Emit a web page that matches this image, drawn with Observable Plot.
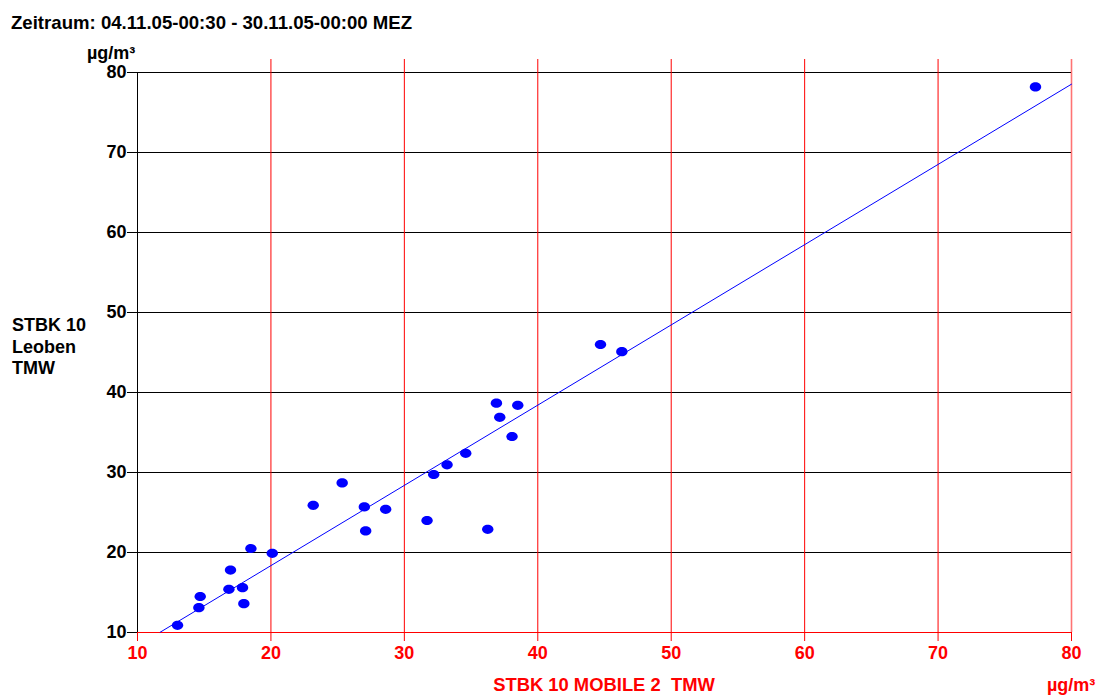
<!DOCTYPE html>
<html>
<head>
<meta charset="utf-8">
<script src="https://cdn.jsdelivr.net/npm/d3@7"></script>
<script src="https://cdn.jsdelivr.net/npm/@observablehq/plot@0.6"></script>
<style>
  html, body { margin: 0; padding: 0; background: #fff; }
  #wrap { position: relative; width: 1098px; height: 697px; font-family: "Liberation Sans", Arial, Helvetica, sans-serif; font-weight: bold; font-size: 18px; line-height: 18px; }
  #wrap svg { position: absolute; left: 0; top: 0; }
  .lbl { position: absolute; white-space: pre; }
</style>
</head>
<body>
<div id="wrap">
  <div class="lbl" id="title" style="left:11px; top:14px; color:#000; font-size:18.6px;"></div>
  <div class="lbl" id="yunit" style="left:87px; top:44px; color:#000;"></div>
  <div class="lbl" id="ylabel" style="left:12px; top:315px; color:#000; line-height:21.7px;"></div>
  <div class="lbl" id="xlabel" style="left:604px; top:676px; color:#ff0000; font-size:18.4px; transform:translateX(-50%);"></div>
  <div class="lbl" id="xunit" style="left:1047px; top:676px; color:#ff0000;"></div>
</div>
<script>
// ---- data ----
const titleText = "Zeitraum: 04.11.05-00:30 - 30.11.05-00:00 MEZ";
const unitText = "µg/m³";
const yLabelLines = ["STBK 10", "Leoben", "TMW"];
const xLabelText = "STBK 10 MOBILE 2  TMW";

const xTicks = [10, 20, 30, 40, 50, 60, 70, 80];
const yTicks = [10, 20, 30, 40, 50, 60, 70, 80];

// x = STBK 10 MOBILE 2 TMW, y = STBK 10 Leoben TMW
const xValues = [77.3, 44.7, 46.3, 36.9, 38.5, 37.15, 38.07, 34.6, 33.2, 32.2,
                 25.34, 23.17, 27.0, 28.6, 31.7, 36.25, 27.1,
                 18.5, 20.1, 16.97, 14.7, 16.85, 17.87, 17.97, 14.6, 13.0];
const yValues = [78.2, 46.0, 45.1, 38.66, 38.4, 36.9, 34.5, 32.4, 30.96, 29.75,
                 28.7, 25.9, 25.7, 25.4, 24.0, 22.9, 22.7,
                 20.5, 19.9, 17.8, 14.5, 15.4, 15.6, 13.6, 13.1, 10.9];

// regression line
const fitSlope = 1.003;
const fitIntercept = -1.70;
const fitXRange = [11.7, 80];

// ---- build ----
const points = xValues.map((x, i) => ({x, y: yValues[i]}));
const fitLine = fitXRange.map(x => ({x, y: fitSlope * x + fitIntercept}));

const ellipse = {
  draw(ctx) {
    const rx = 5.7, ry = 4.6, k = 0.5523;
    ctx.moveTo(rx, 0);
    ctx.bezierCurveTo(rx, ry * k, rx * k, ry, 0, ry);
    ctx.bezierCurveTo(-rx * k, ry, -rx, ry * k, -rx, 0);
    ctx.bezierCurveTo(-rx, -ry * k, -rx * k, -ry, 0, -ry);
    ctx.bezierCurveTo(rx * k, -ry, rx, -ry * k, rx, 0);
    ctx.closePath();
  }
};

const xMin = xTicks[0], xMax = xTicks[xTicks.length - 1];
const yMin = yTicks[0], yMax = yTicks[yTicks.length - 1];

const chart = Plot.plot({
  width: 1098,
  height: 697,
  marginTop: 72,
  marginBottom: 65,
  marginLeft: 137,
  marginRight: 27,
  x: {domain: [xMin, xMax]},
  y: {domain: [yMin, yMax]},
  style: {fontFamily: "'Liberation Sans', Arial, Helvetica, sans-serif", background: "transparent", overflow: "visible"},
  marks: [
    Plot.ruleY(yTicks.filter(d => d > yMin), {stroke: "#000", strokeWidth: 1}),
    Plot.ruleX(xTicks.filter(d => d > xMin && d < xMax), {stroke: "#ff0000", strokeWidth: 1, insetTop: -13}),
    Plot.ruleX([xMax], {stroke: "#ff0000", strokeOpacity: 0.55, strokeWidth: 1.6, insetTop: -13}),
    Plot.ruleX([xMin], {stroke: "#000", strokeWidth: 1}),
    Plot.ruleY([yMin], {stroke: "#ff0000", strokeWidth: 1}),
    Plot.axisY(yTicks, {tickSize: 10, tickPadding: 1, fontSize: 18, fontWeight: "bold", color: "#000", label: null}),
    Plot.axisX(xTicks, {tickSize: 9, tickPadding: 5, fontSize: 18, fontWeight: "bold", color: "#ff0000", label: null}),
    Plot.line(fitLine, {x: "x", y: "y", stroke: "#0000ff", strokeWidth: 1}),
    Plot.dot(points, {x: "x", y: "y", symbol: ellipse, fill: "#0000ff", stroke: "none"})
  ]
});

const wrap = document.getElementById("wrap");
wrap.insertBefore(chart, wrap.firstChild);
document.getElementById("title").textContent = titleText;
document.getElementById("yunit").textContent = unitText;
document.getElementById("ylabel").textContent = yLabelLines.join("\n");
document.getElementById("xlabel").textContent = xLabelText;
document.getElementById("xunit").textContent = unitText;
</script>
</body>
</html>
